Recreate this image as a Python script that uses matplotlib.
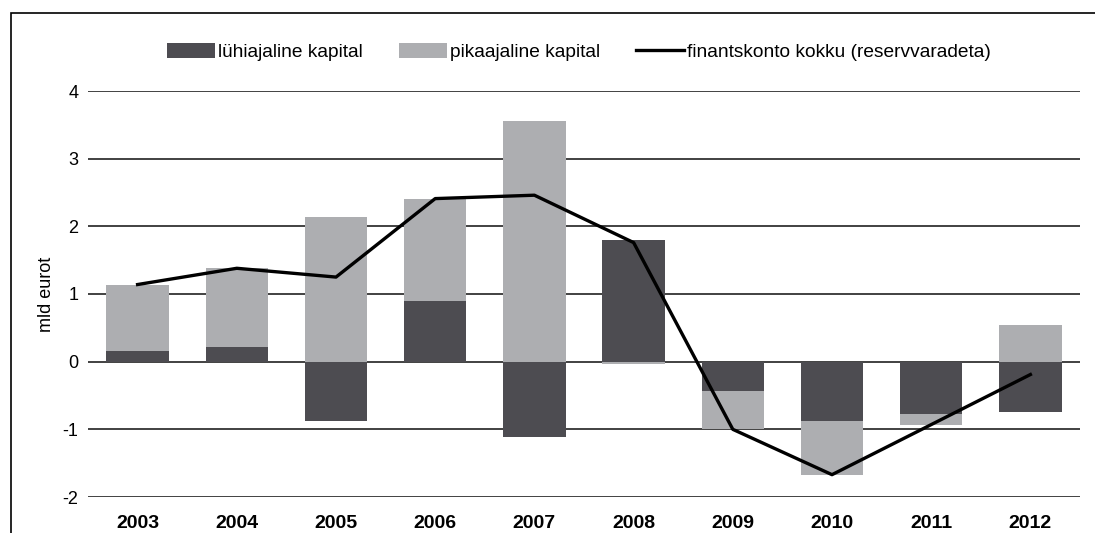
import numpy as np
import matplotlib.pyplot as plt
from matplotlib.patches import Rectangle

plt.rcParams['font.family'] = ['Liberation Sans', 'DejaVu Sans']

years = ['2003', '2004', '2005', '2006', '2007', '2008', '2009', '2010', '2011', '2012']
luhiajaline = [0.16, 0.22, -0.87, 0.90, -1.12, 1.80, -0.43, -0.87, -0.77, -0.74]
pikaajaline = [0.98, 1.16, 2.14, 1.50, 3.56, -0.04, -0.57, -0.80, -0.16, 0.54]
finantskonto = [1.14, 1.38, 1.25, 2.41, 2.46, 1.76, -1.00, -1.67, -0.93, -0.19]

dark = '#4d4c51'
light = '#adaeb1'

fig = plt.figure(figsize=(10.95, 5.33), dpi=100)
ax = fig.add_axes([88 / 1095, 36 / 533, 992 / 1095, 406 / 533])

x = np.arange(len(years))
d = np.array(luhiajaline)
l = np.array(pikaajaline)

# stack: positives upwards from 0, negatives downwards from 0
l_bottom = np.where(np.sign(l) == np.sign(d), d, 0.0)

for y in range(-2, 5):
    ax.axhline(y, color='#333333', lw=1.3, zorder=1)

b1 = ax.bar(x, d, 0.63, color=dark, label='lühiajaline kapital', zorder=2)
b2 = ax.bar(x, l, 0.63, bottom=l_bottom, color=light, label='pikaajaline kapital', zorder=2)
ln, = ax.plot(x, finantskonto, color='black', lw=2.4, label='finantskonto kokku (reservvaradeta)', zorder=3)

ax.set_xlim(-0.5, 9.5)
ax.set_ylim(-2, 4)
ax.set_yticks(range(-2, 5))
ax.set_yticklabels([str(v) for v in range(-2, 5)], fontsize=13)
ax.set_xticks(x)
ax.set_xticklabels(years, fontsize=14, fontweight='bold')
ax.tick_params(axis='both', length=0)
ax.tick_params(axis='x', pad=13)
ax.tick_params(axis='y', pad=7)
for s in ax.spines.values():
    s.set_visible(False)
ax.set_ylabel('mld eurot', fontsize=13, labelpad=5)

fig.legend([b1, b2, ln], [b1.get_label(), b2.get_label(), ln.get_label()],
           loc='center', bbox_to_anchor=(579 / 1095, 1 - 52 / 533), ncol=3, frameon=False,
           fontsize=13.8, handlelength=2.5, handleheight=0.8, columnspacing=1.9, handletextpad=0.15)

fig.patches.append(Rectangle((11 / 1095, -0.1), 1.2, (533 - 13) / 533 + 0.1,
                             transform=fig.transFigure, fill=False, edgecolor='black', lw=1.2))

fig.savefig('out.png', dpi=100)
